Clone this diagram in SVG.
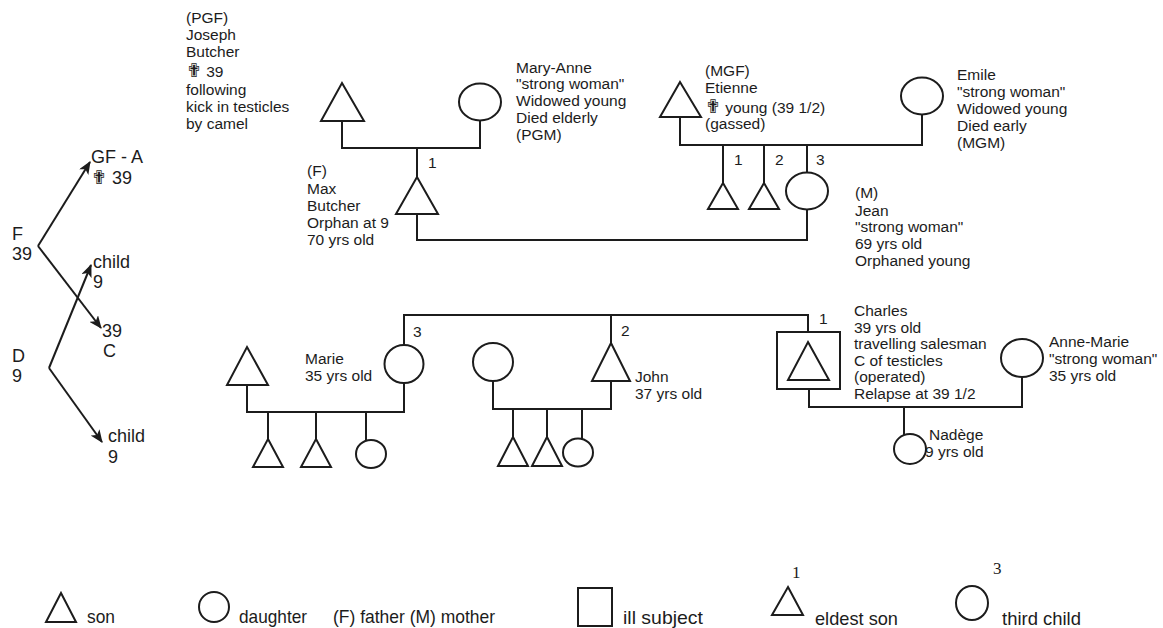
<svg xmlns="http://www.w3.org/2000/svg" width="1163" height="628" viewBox="0 0 1163 628">
<defs>
<style>
.s{fill:none;stroke:#1c1c1c;stroke-width:2;stroke-linejoin:miter}
.c{fill:none;stroke:#1c1c1c;stroke-width:2}
.t{font-family:"Liberation Sans","DejaVu Sans",Arial,sans-serif;font-size:15.5px;fill:#1c1c1c}
.big{font-family:"Liberation Sans","DejaVu Sans",Arial,sans-serif;font-size:18px;fill:#1c1c1c}
.lg{font-family:"Liberation Sans","DejaVu Sans",Arial,sans-serif;font-size:19px;fill:#1c1c1c}
.num{font-family:"Liberation Serif","DejaVu Serif",serif;font-size:17px;fill:#1c1c1c}
.x{font-family:"DejaVu Sans",sans-serif;font-size:19px}
</style>
<marker id="ah" viewBox="0 0 12 10" refX="11" refY="5" markerWidth="13" markerHeight="11" markerUnits="userSpaceOnUse" orient="auto">
<path d="M0,0 L12,5 L0,10 L3,5 z" fill="#1c1c1c"/>
</marker>
</defs>
<rect width="1163" height="628" fill="#ffffff"/>

<!-- left arrows diagram -->
<g id="arrows" class="c">
<line x1="38" y1="246" x2="90" y2="162" marker-end="url(#ah)"/>
<line x1="38" y1="246" x2="101" y2="328" marker-end="url(#ah)"/>
<line x1="49" y1="368" x2="91" y2="265" marker-end="url(#ah)"/>
<line x1="49" y1="368" x2="102" y2="442" marker-end="url(#ah)"/>
</g>
<g id="arrow-labels" class="big">
<text x="91" y="163">GF - A</text>
<text x="91" y="184"><tspan class="x">✟</tspan> 39</text>
<text x="12" y="240">F</text>
<text x="12" y="260">39</text>
<text x="93" y="268">child</text>
<text x="93" y="288">9</text>
<text x="102" y="337">39</text>
<text x="103" y="357">C</text>
<text x="12" y="362">D</text>
<text x="12" y="382">9</text>
<text x="108" y="442">child</text>
<text x="108" y="463">9</text>
</g>

<!-- connectors -->
<g id="connectors" class="c">
<path d="M342,121 V148 H480 V120.5"/>
<path d="M417,148 V177"/>
<path d="M417,214 V240 H807 V209.5"/>
<path d="M680,117 V145 H922 V114.5"/>
<path d="M723,145 V183 M764,145 V183 M807,145 V172.5"/>
<path d="M404,345 V315 H808 V332"/>
<path d="M611,315 V343"/>
<path d="M247,385 V412 H404 V383"/>
<path d="M268,412 V439 M316,412 V439 M366,412 V440.5"/>
<path d="M493,381 V409 H611 V381"/>
<path d="M513,409 V437 M547,409 V437 M582,409 V439.5"/>
<path d="M809,389 V407 H1022 V377"/>
<path d="M904,407 V435"/>
</g>

<!-- paternal grandparents -->
<g id="pgf">
<polygon class="s" points="342,83 364,121 321,121"/>
<text class="t" x="186" y="23">(PGF)</text>
<text class="t" x="186" y="40">Joseph</text>
<text class="t" x="186" y="57">Butcher</text>
<text class="t" x="186" y="77"><tspan class="x" font-size="17">✟</tspan> 39</text>
<text class="t" x="186" y="95">following</text>
<text class="t" x="186" y="112">kick in testicles</text>
<text class="t" x="186" y="129">by camel</text>
</g>
<g id="pgm">
<ellipse class="s" cx="480" cy="102" rx="21" ry="18.5"/>
<text class="t" x="516" y="73">Mary-Anne</text>
<text class="t" x="516" y="89">"strong woman"</text>
<text class="t" x="516" y="106">Widowed young</text>
<text class="t" x="516" y="123">Died elderly</text>
<text class="t" x="516" y="140">(PGM)</text>
</g>
<g id="max">
<polygon class="s" points="417,177 438,214 396,214"/>
<text class="t" x="428" y="168">1</text>
<text class="t" x="307" y="176">(F)</text>
<text class="t" x="307" y="194">Max</text>
<text class="t" x="307" y="211">Butcher</text>
<text class="t" x="307" y="228">Orphan at 9</text>
<text class="t" x="307" y="245">70 yrs old</text>
</g>

<!-- maternal grandparents -->
<g id="mgf">
<polygon class="s" points="680,82 701,117 660,117"/>
<text class="t" x="705" y="76">(MGF)</text>
<text class="t" x="705" y="93">Etienne</text>
<text class="t" x="705" y="113"><tspan class="x" font-size="17">✟</tspan> young (39 1/2)</text>
<text class="t" x="705" y="129">(gassed)</text>
</g>
<g id="mgm">
<ellipse class="s" cx="922" cy="96" rx="21" ry="18.5"/>
<text class="t" x="957" y="80">Emile</text>
<text class="t" x="957" y="97">"strong woman"</text>
<text class="t" x="957" y="114">Widowed young</text>
<text class="t" x="957" y="131">Died early</text>
<text class="t" x="957" y="148">(MGM)</text>
</g>
<g id="mgf-son1">
<polygon class="s" points="723,183 738,209 708,209"/>
<text class="t" x="734" y="165">1</text>
</g>
<g id="mgf-son2">
<polygon class="s" points="764,183 779,209 749,209"/>
<text class="t" x="775" y="165">2</text>
</g>
<g id="jean">
<ellipse class="s" cx="807" cy="191" rx="21" ry="18.5"/>
<text class="t" x="816" y="165">3</text>
<text class="t" x="855" y="198">(M)</text>
<text class="t" x="855" y="216">Jean</text>
<text class="t" x="855" y="232">"strong woman"</text>
<text class="t" x="855" y="249">69 yrs old</text>
<text class="t" x="855" y="266">Orphaned young</text>
</g>

<!-- children generation -->
<g id="marie-husband">
<polygon class="s" points="247,347 268,385 227,385"/>
</g>
<g id="marie">
<ellipse class="s" cx="404" cy="364" rx="19.5" ry="19"/>
<text class="t" x="413" y="337">3</text>
<text class="t" x="305" y="364">Marie</text>
<text class="t" x="305" y="381">35 yrs old</text>
</g>
<g id="marie-son1"><polygon class="s" points="268,439 283,467 253,467"/></g>
<g id="marie-son2"><polygon class="s" points="316,439 331,467 301,467"/></g>
<g id="marie-daughter"><ellipse class="s" cx="371" cy="454" rx="15" ry="14"/></g>

<g id="john-wife">
<ellipse class="s" cx="493" cy="362" rx="20" ry="19"/>
</g>
<g id="john">
<polygon class="s" points="611,343 630,381 592,381"/>
<text class="t" x="621" y="336">2</text>
<text class="t" x="635" y="382">John</text>
<text class="t" x="635" y="399">37 yrs old</text>
</g>
<g id="john-son1"><polygon class="s" points="513,437 528,466 498,466"/></g>
<g id="john-son2"><polygon class="s" points="547,437 562,466 532,466"/></g>
<g id="john-daughter"><ellipse class="s" cx="578" cy="452.5" rx="15" ry="14"/></g>

<g id="charles">
<rect class="s" x="777" y="332" width="63" height="57"/>
<polygon class="s" points="808,342 829,380 788,380"/>
<text class="t" x="819" y="324">1</text>
<text class="t" x="854" y="316">Charles</text>
<text class="t" x="854" y="333">39 yrs old</text>
<text class="t" x="854" y="349">travelling salesman</text>
<text class="t" x="854" y="366">C of testicles</text>
<text class="t" x="854" y="382">(operated)</text>
<text class="t" x="854" y="399">Relapse at 39 1/2</text>
</g>
<g id="anne-marie">
<ellipse class="s" cx="1022" cy="358" rx="21" ry="19"/>
<text class="t" x="1049" y="347">Anne-Marie</text>
<text class="t" x="1049" y="364">"strong woman"</text>
<text class="t" x="1049" y="381">35 yrs old</text>
</g>
<g id="nadege">
<ellipse class="s" cx="910" cy="449" rx="16" ry="15"/>
<text class="t" x="929" y="440">Nadège</text>
<text class="t" x="925" y="457">9 yrs old</text>
</g>

<!-- legend -->
<g id="legend">
<polygon class="s" points="61,593 76,622 46,622"/>
<text class="lg" x="87" y="623" textLength="28" lengthAdjust="spacingAndGlyphs">son</text>
<ellipse class="s" cx="214" cy="607" rx="15" ry="15"/>
<text class="lg" x="239" y="623" textLength="68" lengthAdjust="spacingAndGlyphs">daughter</text>
<text class="lg" x="333" y="623" textLength="162" lengthAdjust="spacingAndGlyphs">(F) father (M) mother</text>
<rect class="s" x="578" y="588" width="34" height="38"/>
<text class="lg" x="623" y="624" textLength="80" lengthAdjust="spacingAndGlyphs">ill subject</text>
<text class="num" x="792" y="578">1</text>
<polygon class="s" points="788,587 803,615 772,615"/>
<text class="lg" x="815" y="625" textLength="83" lengthAdjust="spacingAndGlyphs">eldest son</text>
<text class="num" x="993" y="574">3</text>
<ellipse class="s" cx="972" cy="603" rx="16" ry="17"/>
<text class="lg" x="1002" y="625" textLength="79" lengthAdjust="spacingAndGlyphs">third child</text>
</g>
</svg>
